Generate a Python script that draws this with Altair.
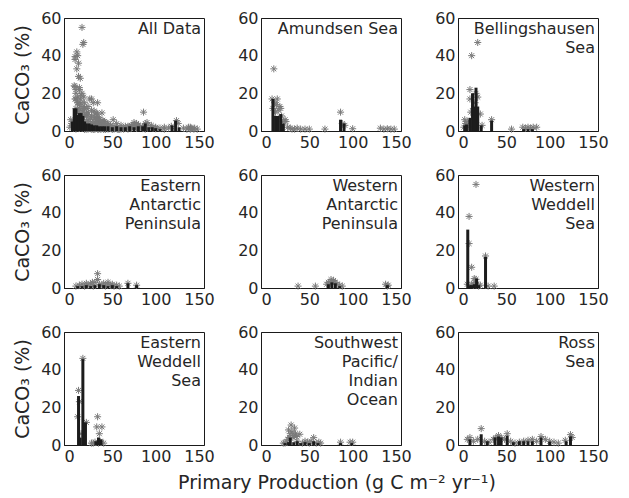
import altair as alt
import pandas as pd

# ---------------- data ----------------
labels = ["All Data", "Amundsen Sea", "Bellingshausen\nSea",
          "Eastern\nAntarctic\nPeninsula", "Western\nAntarctic\nPeninsula", "Western\nWeddell\nSea",
          "Eastern\nWeddell\nSea", "Southwest\nPacific/\nIndian\nOcean", "Ross\nSea"]
x_title = "Primary Production (g C m\u207b\u00b2 yr\u207b\u00b9)"
y_title = "CaCO\u2083 (%)"

# Amundsen Sea
amu_px = [9, 7, 8, 10, 11, 12, 13, 14, 16, 17, 18, 20, 22, 23, 25, 28, 30, 33, 36, 40, 45, 50, 68, 86, 88, 91, 100, 132, 136, 140, 144, 148]
amu_py = [33, 17, 12, 15, 10, 14, 17, 11, 13, 12, 8, 5, 6, 5, 2, 1.5, 1, 1, 1.5, 1, 1, 1, 1, 10, 4, 3, 1.2, 1.5, 1, 1.2, 1, 1]
amu_bx = [8, 11, 14, 17, 20, 86, 90]
amu_by = [17, 8, 8, 9, 4, 6, 4]

# Bellingshausen Sea
bel_px = [17, 10, 8, 8, 17, 20, 33, 2, 3, 4, 5, 6, 9, 12, 14, 15, 22, 56, 69, 72, 75, 78, 81, 85, 1, 13]
bel_py = [47, 40, 22, 17, 18, 9, 6, 6, 4, 3, 5, 2, 10, 12, 15, 20, 3, 1, 2, 1.5, 2, 1.5, 2, 2, 2, 8]
bel_bx = [2, 4, 8, 11, 13, 15, 17, 21, 33, 70, 75, 80]
bel_by = [3, 3.5, 7, 20, 13, 23, 13, 3, 5.5, 1, 1, 1]

# Eastern Antarctic Peninsula
eap_px = [33, 33, 8, 12, 15, 18, 20, 22, 25, 28, 30, 35, 38, 40, 42, 45, 48, 50, 52, 55, 58, 68, 78, 27, 45]
eap_py = [7.6, 4.5, 1, 1.5, 2, 1, 2.5, 1.5, 2, 1, 3, 2, 1.5, 2.5, 1, 2, 1.5, 2, 1, 1.5, 1, 2.5, 1.5, 3, 3]
eap_bx = [10, 15, 20, 25, 30, 35, 40, 45, 50, 55, 68, 78]
eap_by = [1, 1, 1.5, 1, 1.5, 2, 1.5, 1, 1.5, 1, 2.5, 1.5]

# Western Antarctic Peninsula
wap_px = [37, 57, 70, 72, 74, 75, 76, 78, 80, 82, 85, 88, 138, 140, 141]
wap_py = [1, 1, 2, 3, 2.5, 4.5, 3.5, 4, 3, 2, 1.5, 1, 2, 1, 1.5]
wap_bx = [72, 76, 80, 85, 140]
wap_by = [2, 3, 2.5, 1, 1.5]

# Western Weddell Sea
wwe_px = [15, 7, 7, 10, 15, 26, 29, 36, 10, 12, 14, 16, 18, 20, 5, 13]
wwe_py = [55, 38, 23.6, 11, 4.6, 17, 1, 1, 2, 1.5, 3, 2, 1, 1.5, 2, 5]
wwe_bx = [5.5, 8, 10, 13, 15.7, 18, 26]
wwe_by = [31, 1.5, 1.5, 2, 5, 1.5, 16.5]

# Eastern Weddell Sea
ewe_px = [11, 12, 16, 20, 33, 32, 38, 35, 26, 28, 30, 34, 36, 40, 10, 14]
ewe_py = [29, 23, 46, 12, 15, 9.6, 9.6, 6, 1, 1, 1.5, 1, 2, 1, 15, 6]
ewe_bx = [11, 13, 16, 19, 31, 34, 37]
ewe_by = [26, 4, 45.6, 12, 2, 4, 3]

# Southwest Pacific / Indian Ocean
swp_px = [29, 26, 28, 30, 32, 34, 27, 31, 35, 39, 55, 61, 86, 97, 100, 20, 22, 24, 36, 42, 45, 48, 50, 52, 58, 63, 25, 33]
swp_py = [10.6, 8, 6, 7, 5, 6, 4, 4, 4.5, 5.7, 3.9, 1.5, 1.5, 1.5, 1.5, 1, 1, 1.5, 2, 1, 2, 1.5, 1, 2, 1, 1, 3, 9]
swp_bx = [22, 26, 28, 32, 36, 40, 45, 50, 55, 60, 86, 99]
swp_by = [1, 1.5, 3.9, 1.5, 2, 1, 1.5, 1, 2, 1, 1, 1]

# Ross Sea
ros_px = [21, 5, 8, 12, 17, 25, 30, 35, 38, 41, 44, 48, 51, 55, 60, 65, 70, 75, 80, 85, 90, 95, 100, 105, 110, 118, 124, 126]
ros_py = [8.7, 3, 4, 2, 3, 2, 1.5, 3, 4, 5, 4, 3, 6, 2, 1, 1.5, 2, 2.5, 3, 2, 4.5, 3, 2, 1.5, 1, 2.5, 5.5, 4]
ros_bx = [8, 21, 28, 37, 41, 44, 51, 58, 65, 70, 75, 80, 90, 100, 119, 124]
ros_by = [3, 5.7, 2, 4, 4.5, 4, 5, 1.5, 2, 2, 2, 2, 4, 1.8, 2, 4.6]

# All Data: cores outside the regional panels
oth_px = [7, 9, 6, 8, 10, 12, 14, 18, 22, 24, 28, 20, 16, 13, 11, 25, 30, 35, 40, 45, 22, 18, 26, 32, 38, 42, 55, 60, 65, 75, 95, 110, 115, 140, 145]
oth_py = [39.5, 42, 24, 20, 18, 22, 19, 12, 10, 17, 15, 8, 10, 28, 36, 7, 9, 6, 5, 4, 13, 15, 11, 7, 3, 3, 2, 3, 2.5, 3, 2, 2, 1.5, 2, 1.5]
all_bx = [4, 6, 8, 10, 12, 14, 16, 18, 20, 23, 26, 29, 32, 35, 38, 41, 45, 50, 55, 60, 65, 70, 75, 80, 85, 88, 92, 96, 100, 105, 119, 123, 127]
all_by = [5, 12, 12, 8.5, 9.5, 9.5, 8, 5, 4, 4, 3.5, 3, 3, 2.5, 2.5, 2.5, 2.5, 2, 2.5, 2, 2, 2.5, 2, 2.5, 2.5, 4, 2, 2, 1.5, 1, 3, 5.5, 2]

all_px = amu_px + bel_px + eap_px + wap_px + wwe_px + ewe_px + swp_px + ros_px + oth_px
all_py = amu_py + bel_py + eap_py + wap_py + wwe_py + ewe_py + swp_py + ros_py + oth_py

panels = [
    (all_px, all_py, all_bx, all_by),
    (amu_px, amu_py, amu_bx, amu_by),
    (bel_px, bel_py, bel_bx, bel_by),
    (eap_px, eap_py, eap_bx, eap_by),
    (wap_px, wap_py, wap_bx, wap_by),
    (wwe_px, wwe_py, wwe_bx, wwe_by),
    (ewe_px, ewe_py, ewe_bx, ewe_by),
    (swp_px, swp_py, swp_bx, swp_by),
    (ros_px, ros_py, ros_bx, ros_by),
]

STAR = "M0,-1L0,1M-1,0L1,0M-0.7,-0.7L0.7,0.7M-0.7,0.7L0.7,-0.7"
W, H = 140, 113
FONT = "DejaVu Sans"


def panel(i):
    px, py, bx, by = panels[i]
    col = i % 3
    pts = pd.DataFrame({"pp": px, "ca": py})
    bars = pd.DataFrame({"pp": bx, "ca": by})
    xaxis = alt.Axis(values=[0, 50, 100, 150], title=None, labelFlush=False)
    if col == 0:
        yaxis = alt.Axis(values=[0, 20, 40, 60], title=y_title, titlePadding=8, labelFlush=False)
    else:
        yaxis = alt.Axis(values=[0, 20, 40, 60], title=None, labelFlush=False)
    x = alt.X("pp:Q", scale=alt.Scale(domain=[0, 150], nice=False), axis=xaxis)
    y = alt.Y("ca:Q", scale=alt.Scale(domain=[0, 60], nice=False), axis=yaxis)
    p = alt.Chart(pts).mark_point(shape=STAR, size=50, filled=False, color="#7a7a7a",
                                  strokeWidth=1, opacity=1).encode(x=x, y=y)
    b = alt.Chart(bars).mark_bar(size=3, color="#1c1c1c", orient="vertical").encode(x=x, y=y)
    t = alt.Chart(pd.DataFrame({"label": [labels[i]]})).mark_text(
        align="right", baseline="top", fontSize=16, lineHeight=19, font=FONT,
        color="#262626", lineBreak="\n").encode(x=alt.value(W - 3), y=alt.value(3), text="label:N")
    return alt.layer(p, b, t).properties(width=W, height=H)


rows = [alt.hconcat(*[panel(r * 3 + c) for c in range(3)], spacing=22) for r in range(3)]
chart = alt.vconcat(*rows, spacing=15).properties(
    padding={"left": 5, "top": 1, "right": 5, "bottom": 5},
    title=alt.TitleParams(x_title, orient="bottom", anchor="middle", fontSize=19, font=FONT,
                          fontWeight="normal", color="#262626", offset=9, dx=26)
).configure_view(
    stroke="#1a1a1a", strokeWidth=1
).configure_axis(
    grid=False, ticks=False, domainColor="#1a1a1a", labelFont=FONT, labelFontSize=16,
    labelColor="#262626", titleFont=FONT, titleFontSize=19, titleFontWeight="normal",
    titleColor="#262626", labelPadding=3
)

chart.save("out.html", embed_options={"renderer": "svg", "actions": False})
